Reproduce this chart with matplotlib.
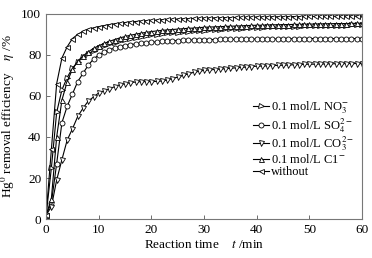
import numpy as np
import matplotlib.pyplot as plt

plt.rcParams['font.family'] = ['Liberation Serif', 'DejaVu Serif']
plt.rcParams['mathtext.fontset'] = 'stix'

t = list(range(0, 61))

without = [2, 34, 66, 78.5, 84, 88, 90, 91.5, 92.5, 93.2,
           93.8, 94.3, 94.8, 95.2, 95.5, 95.8, 96.1, 96.3, 96.5, 96.7,
           96.9, 97.0, 97.2, 97.3, 97.4, 97.5, 97.6, 97.7, 97.8, 97.9,
           98.0, 98.0, 98.1, 98.1, 98.2, 98.2, 98.3, 98.3, 98.4, 98.4,
           98.5, 98.5, 98.5, 98.6, 98.6, 98.6, 98.7, 98.7, 98.7, 98.8,
           98.8, 98.8, 98.8, 98.9, 98.9, 98.9, 98.9, 99.0, 99.0, 99.0, 99.0]

no3 = [2, 25, 52, 63, 69, 73.6, 76.5, 78.8, 80.6, 82.0,
       83.2, 84.2, 85.1, 85.9, 86.6, 87.2, 87.8, 88.3, 88.8, 89.2,
       89.6, 89.9, 90.2, 90.5, 90.7, 90.9, 91.1, 91.3, 91.5, 91.7,
       91.9, 92.0, 92.2, 92.3, 92.5, 92.6, 92.7, 92.8, 93.0, 93.1,
       93.2, 93.3, 93.4, 93.5, 93.5, 93.6, 93.7, 93.8, 93.8, 93.9,
       94.0, 94.0, 94.1, 94.1, 94.2, 94.2, 94.3, 94.3, 94.4, 94.4, 94.5]

so4 = [2, 8, 27, 47, 55, 61, 67, 71, 75, 78,
       80, 81.3, 82.5, 83.3, 84.0, 84.5, 85.0, 85.4, 85.7, 86.0,
       86.2, 86.4, 86.6, 86.8, 86.9, 87.0, 87.1, 87.2, 87.3, 87.4,
       87.5, 87.5, 87.5, 87.6, 87.6, 87.6, 87.7, 87.7, 87.7, 87.7,
       87.8, 87.8, 87.8, 87.8, 87.8, 87.9, 87.9, 87.9, 87.9, 87.9,
       88.0, 88.0, 88.0, 88.0, 88.0, 88.0, 88.0, 88.0, 88.0, 88.0, 88.0]

co3 = [2, 6, 19, 29, 38.5, 44, 50, 54, 57.5, 59.5,
       61.5, 62.5, 63.5, 64.5, 65.5, 66.0, 66.5, 66.8, 67.0, 67.0,
       67.0, 67.1, 67.3, 67.8, 68.5, 69.2, 70.0, 70.8, 71.5, 72.0,
       72.5, 72.7, 72.9, 73.1, 73.3, 73.5, 73.7, 73.9, 74.1, 74.3,
       74.5, 74.6, 74.7, 74.8, 74.9, 75.0, 75.1, 75.2, 75.3, 75.4,
       75.5, 75.5, 75.6, 75.6, 75.7, 75.7, 75.7, 75.8, 75.8, 75.8, 75.8]

cl = [2, 10, 40, 58, 67, 73, 77, 79.5, 81.5, 83.2,
      84.5, 85.6, 86.6, 87.5, 88.3, 89.0, 89.6, 90.1, 90.6, 91.0,
      91.4, 91.7, 92.0, 92.2, 92.4, 92.6, 92.8, 93.0, 93.1, 93.3,
      93.5, 93.6, 93.7, 93.8, 93.9, 94.0, 94.1, 94.2, 94.3, 94.4,
      94.5, 94.5, 94.6, 94.7, 94.7, 94.8, 94.8, 94.9, 94.9, 95.0,
      95.0, 95.1, 95.1, 95.2, 95.2, 95.3, 95.3, 95.3, 95.4, 95.4, 95.5]

series = [
    (no3, '>', r'0.1 mol/L NO$_3^{-}$'),
    (so4, 'o', r'0.1 mol/L SO$_4^{2-}$'),
    (co3, 'v', r'0.1 mol/L CO$_3^{2-}$'),
    (cl, '^', r'0.1 mol/L C1$^{-}$'),
    (without, '<', 'without'),
]

fig = plt.figure(figsize=(3.72, 2.58), dpi=100)
ax = fig.add_axes([0.124, 0.151, 0.849, 0.795])

for vals, m, lab in series:
    ax.plot(t, vals, color='black', lw=0.8, marker=m, markersize=3.6,
            markerfacecolor='white', markeredgecolor='black',
            markeredgewidth=0.6, label=lab)

ax.set_xlim(0, 60)
ax.set_ylim(0, 100)
ax.set_xticks([0, 10, 20, 30, 40, 50, 60])
ax.set_yticks([0, 20, 40, 60, 80, 100])
ax.tick_params(direction='in', labelsize=9.5, length=3, width=0.6,
               top=False, right=False, color='#555555')
for s in ax.spines.values():
    s.set_color('#777777')
    s.set_linewidth(0.8)

ax.set_xlabel(r'Reaction time    $t$ /min', fontsize=9.5, labelpad=2)
ax.set_ylabel(r'Hg$^0$ removal efficiency    $\eta$ /%', fontsize=9.5, labelpad=3)

ax.legend(loc='upper left', bbox_to_anchor=(0.63, 0.62), frameon=False,
          fontsize=9, handlelength=1.3, handletextpad=0.2,
          labelspacing=0.0, borderpad=0.1)

fig.savefig('out.png', dpi=100)
